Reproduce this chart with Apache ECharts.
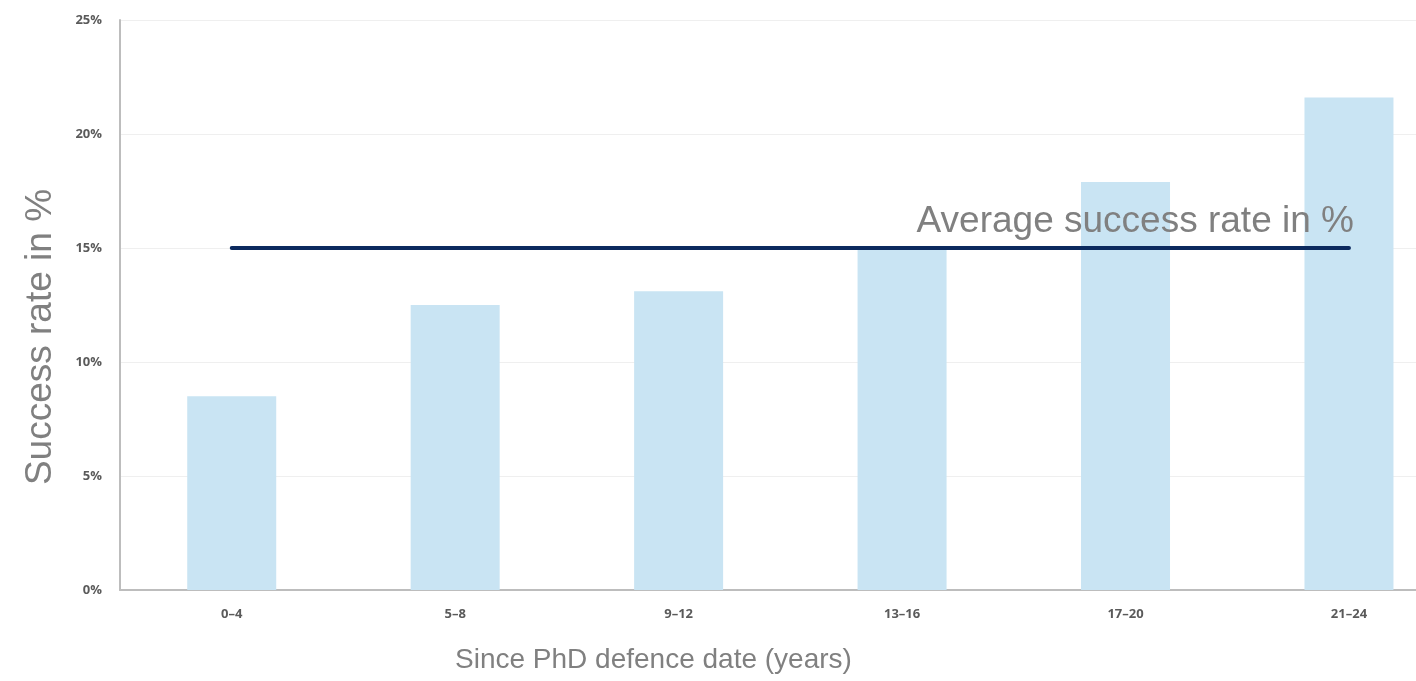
<!DOCTYPE html>
<html>
<head>
<meta charset="utf-8">
<script src="https://cdn.jsdelivr.net/npm/echarts@6/dist/echarts.min.js"></script>
<style>
  html, body { margin: 0; padding: 0; background: #ffffff; }
  #chart { width: 1416px; height: 681px; }
</style>
</head>
<body>
<div id="chart"></div>
<script>
// Years since PhD defence, grouped in four-year bands
const categories = ['0–4', '5–8', '9–12', '13–16', '17–20', '21–24'];
// Success rate per band, in %
const successRates = [8.5, 12.5, 13.1, 15.0, 17.9, 21.6];
// Overall average success rate, in %
const averageRate = 15;
// Value axis ticks, in %
const yTicks = [0, 5, 10, 15, 20, 25];

const chart = echarts.init(document.getElementById('chart'), null, { renderer: 'canvas' });

const titleFont = 'Liberation Sans, Arial, Helvetica, sans-serif';
const tickFont = 'Open Sans, Noto Sans, sans-serif';

// Bands sit at integer positions; the last band runs past the right edge of the view
const bandIndex = categories.map((_, i) => i);
const barData = successRates.map((v, i) => [bandIndex[i], v]);

chart.setOption({
  animation: false,
  backgroundColor: '#ffffff',
  grid: { left: 120, top: 20, right: 0, bottom: 91, containLabel: false },
  xAxis: {
    type: 'value',
    min: -0.5,
    max: 5.3,
    splitLine: { show: false },
    axisLine: { show: true, onZero: false, lineStyle: { color: '#bdbdbd', width: 2 } },
    axisTick: { show: false },
    axisLabel: {
      customValues: bandIndex,
      formatter: v => categories[Math.round(v)],
      color: '#5a5a5a', fontFamily: tickFont, fontWeight: 'bold', fontSize: 13, margin: 18
    }
  },
  yAxis: {
    type: 'value',
    min: yTicks[0],
    max: yTicks[yTicks.length - 1],
    interval: yTicks[1] - yTicks[0],
    axisLine: { show: true, onZero: false, lineStyle: { color: '#bdbdbd', width: 2 } },
    axisTick: { show: false },
    splitLine: { show: true, lineStyle: { color: '#efefef', width: 1 } },
    axisLabel: {
      color: '#5a5a5a', fontFamily: tickFont, fontWeight: 'bold', fontSize: 13, margin: 18,
      formatter: v => v + '%'
    }
  },
  series: [{
    type: 'bar',
    data: barData,
    barWidth: 89,
    itemStyle: { color: '#c9e4f3' },
    markLine: {
      silent: true,
      symbol: ['none', 'none'],
      lineStyle: { color: '#0c2a5e', width: 4, type: 'solid', cap: 'round' },
      label: {
        show: true,
        position: 'insideEndTop',
        formatter: 'Average success rate in %',
        color: '#808080',
        fontFamily: titleFont,
        fontSize: 37,
        distance: [-5, 8]
      },
      data: [[
        { coord: [bandIndex[0], averageRate] },
        { coord: [bandIndex[bandIndex.length - 1], averageRate] }
      ]]
    }
  }],
  graphic: [
    {
      type: 'text',
      left: 455,
      top: 646,
      style: {
        text: 'Since PhD defence date (years)',
        fill: '#808080',
        font: '28px ' + titleFont
      }
    },
    {
      type: 'text',
      x: 22,
      y: 337,
      rotation: Math.PI / 2,
      style: {
        text: 'Success rate in %',
        fill: '#808080',
        font: '37px ' + titleFont,
        align: 'center',
        verticalAlign: 'top'
      }
    }
  ]
});
</script>
</body>
</html>
